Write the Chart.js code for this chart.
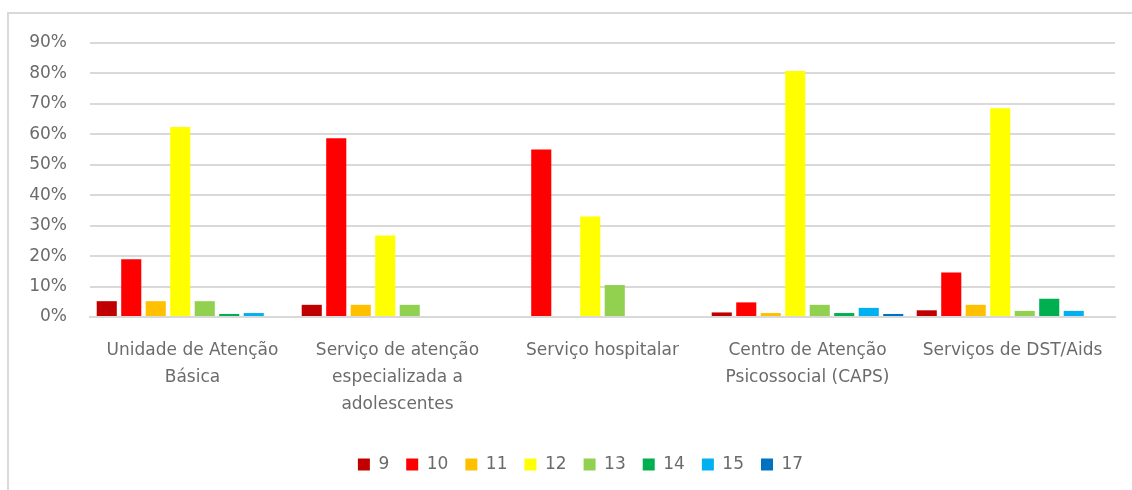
<!DOCTYPE html>
<html>
<head>
    <meta charset="utf-8">
    <title>Serviços</title>
    <style>
        body {
            margin: 0;
            padding: 0;
            background-color: #fff;
        }
        #wrap {
            position: relative;
            width: 1132px;
            height: 490px;
        }
        #frame {
            position: absolute;
            left: 7px;
            top: 12px;
            width: 1125px;
            height: 478px;
            border-top: 2px solid #d9d9d9;
            border-left: 2px solid #d9d9d9;
            box-sizing: border-box;
        }
        #servicos-chart {
            position: absolute;
            left: 0;
            top: 0;
        }
    </style>
    <script src="https://cdn.jsdelivr.net/npm/chart.js"></script>
</head>
<body>
    <div id="wrap">
        <div id="frame"></div>
        <canvas id="servicos-chart" width="1132" height="490"></canvas>
    </div>

    <script>
        // categorias (rótulos em várias linhas, como no original)
        const servicos = [
            ['Unidade de Atenção', 'Básica'],
            ['Serviço de atenção', 'especializada a', 'adolescentes'],
            ['Serviço hospitalar'],
            ['Centro de Atenção', 'Psicossocial (CAPS)'],
            ['Serviços de DST/Aids']
        ];

        const series = ['9', '10', '11', '12', '13', '14', '15', '17'];
        const cores = ['#c00000', '#ff0000', '#ffc000', '#ffff00', '#92d050', '#00b050', '#00b0f0', '#0070c0'];

        // valores em % por série (uma posição por serviço)
        const v9  = [5.2, 4.0, 0, 1.5, 2.2];
        const v10 = [19.0, 58.7, 55.0, 4.8, 14.6];
        const v11 = [5.2, 4.0, 0, 1.3, 4.0];
        const v12 = [62.4, 26.8, 33.0, 80.8, 68.6];
        const v13 = [5.2, 4.0, 10.5, 4.0, 2.0];
        const v14 = [1.0, 0, 0, 1.3, 6.0];
        const v15 = [1.3, 0, 0, 3.0, 2.0];
        const v17 = [0, 0, 0, 1.0, 0];
        const valores = [v9, v10, v11, v12, v13, v14, v15, v17];

        const yTicks = [0, 10, 20, 30, 40, 50, 60, 70, 80, 90];

        const fonte = "'DejaVu Sans', sans-serif";
        const cinza = '#6b6b6b';

        // empurra a legenda um pouco para a direita, como no original
        const moveLegenda = {
            id: 'moveLegenda',
            afterLayout(chart) {
                chart.legend.left += 23;
                chart.legend.right += 23;
                chart.legend.top += 1;
                chart.legend.bottom += 1;
            }
        };

        const chart = new Chart(document.getElementById('servicos-chart'), {
            type: 'bar',
            data: {
                labels: servicos,
                datasets: series.map((s, i) => ({
                    label: s,
                    data: valores[i],
                    backgroundColor: cores[i],
                    borderWidth: 0,
                    categoryPercentage: 0.956,
                    barPercentage: 0.82
                }))
            },
            options: {
                responsive: false,
                animation: false,
                devicePixelRatio: 1,
                layout: {
                    padding: { top: 43, right: 17, bottom: 8, left: 0 }
                },
                plugins: {
                    legend: {
                        position: 'bottom',
                        labels: {
                            boxWidth: 12,
                            boxHeight: 12,
                            padding: 17,
                            color: cinza,
                            font: { family: fonte, size: 17 }
                        }
                    },
                    tooltip: { enabled: false }
                },
                scales: {
                    y: {
                        min: 0,
                        max: 90,
                        afterBuildTicks: (scale) => {
                            scale.ticks = yTicks.map(v => ({ value: v }));
                        },
                        afterFit: (scale) => { scale.width = 90; },
                        border: { display: false },
                        grid: { color: '#d9d9d9', lineWidth: 2, drawTicks: false },
                        ticks: {
                            padding: 23,
                            color: cinza,
                            font: { family: fonte, size: 17 },
                            callback: (v) => v + '%'
                        }
                    },
                    x: {
                        afterFit: (scale) => { scale.height = 121; },
                        border: { display: true, color: '#d9d9d9', width: 2 },
                        grid: { display: false, drawTicks: false },
                        ticks: {
                            padding: 20,
                            maxRotation: 0,
                            autoSkip: false,
                            color: cinza,
                            font: { family: fonte, size: 17, lineHeight: 1.6 }
                        }
                    }
                }
            },
            plugins: [moveLegenda]
        });
    </script>
</body>
</html>
